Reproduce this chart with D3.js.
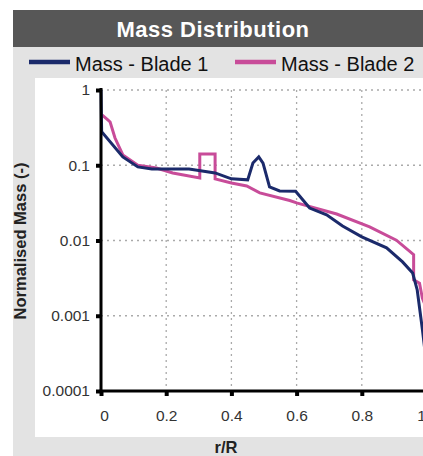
<!DOCTYPE html>
<html>
<head>
<meta charset="utf-8">
<script src="https://cdn.jsdelivr.net/npm/d3@7"></script>
<style>
  body { margin: 0; background: #fff; }
  text { font-family: "Liberation Sans", Arial, sans-serif; }
</style>
</head>
<body>
<svg id="chart" width="423" height="456"></svg>
<script>
// data
var blade1R    = [0, 0.002, 0.067, 0.113, 0.156, 0.27, 0.30, 0.35, 0.40, 0.45, 0.466, 0.484, 0.497, 0.517, 0.548, 0.597, 0.64, 0.692, 0.741, 0.80, 0.876, 0.925, 0.956, 0.97, 0.986, 1.0];
var blade1Mass = [1, 0.28, 0.129, 0.095, 0.089, 0.089, 0.085, 0.079, 0.066, 0.064, 0.107, 0.129, 0.107, 0.0515, 0.0456, 0.045, 0.027, 0.022, 0.0156, 0.0112, 0.008, 0.0052, 0.0037, 0.0022, 0.00065, 0.0002];
var blade2R    = [0.003, 0.021, 0.028, 0.043, 0.067, 0.113, 0.17, 0.22, 0.303, 0.303, 0.35, 0.35, 0.40, 0.447, 0.487, 0.579, 0.60, 0.723, 0.824, 0.906, 0.959, 0.959, 0.977, 0.986, 1.0];
var blade2Mass = [0.466, 0.40, 0.376, 0.23, 0.137, 0.10, 0.092, 0.079, 0.068, 0.141, 0.141, 0.066, 0.058, 0.053, 0.043, 0.034, 0.0316, 0.0225, 0.0152, 0.0101, 0.0065, 0.003, 0.0027, 0.0017, 0.0012];
var xTicks = [0, 0.2, 0.4, 0.6, 0.8, 1];
var yTicks = [1, 0.1, 0.01, 0.001, 0.0001];
var yTickLabels = ["1", "0.1", "0.01", "0.001", "0.0001"];
var seriesNames = ["Mass - Blade 1", "Mass - Blade 2"];
var seriesColors = ["#1b2a6b", "#c84c99"];

var svg = d3.select("#chart");

// panel, title bar, plot area
svg.append("rect").attr("x", 13).attr("y", 10).attr("width", 420).attr("height", 450).attr("fill", "#e3e3e3");
svg.append("rect").attr("x", 13).attr("y", 10).attr("width", 420).attr("height", 37).attr("fill", "#575757");
svg.append("text").attr("x", 213).attr("y", 37).attr("text-anchor", "middle")
  .attr("fill", "#fff").attr("font-size", 22).attr("font-weight", "bold")
  .attr("letter-spacing", 0.5).text("Mass Distribution");
svg.append("rect").attr("x", 35).attr("y", 78).attr("width", 400).attr("height", 359).attr("fill", "#fff");

var x = d3.scaleLinear().domain([0, 1]).range([101, 427]);
var y = d3.scaleLog().domain([0.0001, 1]).range([391, 90]);

// grid
var grid = svg.append("g").attr("stroke", "#aaa").attr("stroke-width", 1.3).attr("stroke-dasharray", "2,4");
grid.selectAll(".gy").data(yTicks.slice(0, 4)).enter().append("line")
  .attr("x1", 101).attr("x2", 423).attr("y1", function(d) { return y(d); }).attr("y2", function(d) { return y(d); });
grid.selectAll(".gx").data(xTicks.slice(1)).enter().append("line")
  .attr("y1", 90).attr("y2", 391).attr("x1", function(d) { return x(d); }).attr("x2", function(d) { return x(d); });

// lines
var line = d3.line().x(function(d) { return x(d[0]); }).y(function(d) { return y(d[1]); });
var s1 = blade1R.map(function(r, i) { return [r, blade1Mass[i]]; });
var s2 = blade2R.map(function(r, i) { return [r, blade2Mass[i]]; });
svg.append("path").datum(s2).attr("d", line).attr("fill", "none")
  .attr("stroke", seriesColors[1]).attr("stroke-width", 3).attr("stroke-linejoin", "miter");
svg.append("path").datum(s1).attr("d", line).attr("fill", "none")
  .attr("stroke", seriesColors[0]).attr("stroke-width", 3).attr("stroke-linejoin", "miter");

// axes
var yAxis = svg.append("g").attr("transform", "translate(101,0)")
  .call(d3.axisLeft(y).tickValues(yTicks).tickFormat(function(d, i) { return yTickLabels[i]; }).tickSize(5).tickPadding(6));
var xAxis = svg.append("g").attr("transform", "translate(0,391)")
  .call(d3.axisBottom(x).tickValues(xTicks).tickFormat(d3.format("")).tickSize(5).tickPadding(14));
[yAxis, xAxis].forEach(function(a) {
  a.select(".domain").remove();
  a.selectAll(".tick line").attr("stroke", "#000").attr("stroke-width", 4);
  a.selectAll(".tick text").attr("fill", "#333").attr("font-size", 15.5)
    .style("font-family", "'Liberation Sans', Arial, sans-serif");
});
// edge labels pulled inward like the original
xAxis.selectAll(".tick text").filter(function(d) { return d === 0; }).attr("x", 3);
xAxis.selectAll(".tick text").filter(function(d) { return d === 1; }).attr("x", -6);
svg.append("line").attr("x1", 101).attr("x2", 101).attr("y1", 88).attr("y2", 393).attr("stroke", "#000").attr("stroke-width", 3);
svg.append("line").attr("x1", 99.5).attr("x2", 423).attr("y1", 391).attr("y2", 391).attr("stroke", "#000").attr("stroke-width", 3);

// axis titles
svg.append("text").attr("transform", "translate(26,241) rotate(-90)").attr("text-anchor", "middle")
  .attr("font-size", 16.5).attr("font-weight", "bold").attr("fill", "#222").text("Normalised Mass (-)");
svg.append("text").attr("x", 226).attr("y", 453).attr("text-anchor", "middle")
  .attr("font-size", 16.5).attr("font-weight", "bold").attr("fill", "#222").text("r/R");

// legend
var legX = [29, 235];
seriesNames.forEach(function(name, i) {
  svg.append("line").attr("x1", legX[i]).attr("x2", legX[i] + 41).attr("y1", 62).attr("y2", 62)
    .attr("stroke", seriesColors[i]).attr("stroke-width", 4.5);
  svg.append("text").attr("x", legX[i] + 46).attr("y", 71).attr("font-size", 20).attr("fill", "#111").text(name);
});
</script>
</body>
</html>
